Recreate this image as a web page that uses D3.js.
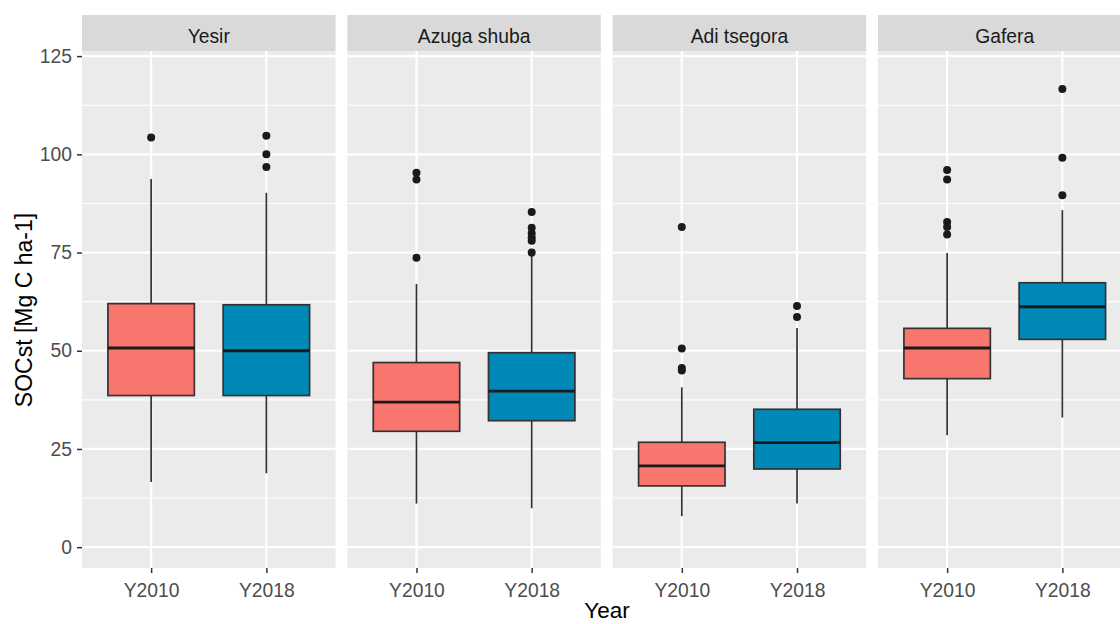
<!DOCTYPE html>
<html>
<head>
<meta charset="utf-8">
<script src="https://cdn.jsdelivr.net/npm/d3@7/dist/d3.min.js"></script>
<style>
  html, body { margin: 0; padding: 0; background: #ffffff; }
  svg { display: block; font-family: "Liberation Sans", Arial, sans-serif; }
</style>
</head>
<body>
<svg id="chart" width="1120" height="624"></svg>
<script>
// Soil organic carbon stock per site and survey year (box summaries)
const sites = ["Yesir", "Azuga shuba", "Adi tsegora", "Gafera"];
const years = ["Y2010", "Y2018"];
const yTicks = [0, 25, 50, 75, 100, 125];

// Indexed [site][year]
const whiskerLow  = [[16.6, 18.8], [11.1, 9.9],  [7.9, 11.1],  [28.5, 33.0]];
const q1Values    = [[38.6, 38.6], [29.5, 32.2], [15.6, 19.9], [42.9, 52.9]];
const medians     = [[50.7, 50.0], [36.9, 39.7], [20.7, 26.6], [50.7, 61.2]];
const q3Values    = [[62.0, 61.7], [47.0, 49.5], [26.7, 35.1], [55.7, 67.3]];
const whiskerHigh = [[93.7, 90.2], [67.0, 74.4], [40.7, 55.8], [74.9, 85.8]];
const outliers    = [
  [[104.3], [104.7, 100.0, 96.8]],
  [[95.3, 93.6, 73.7], [85.3, 81.3, 79.9, 78.8, 78.0, 75.0]],
  [[81.5, 50.6, 45.6, 45.0], [61.4, 58.6]],
  [[96.0, 93.6, 82.8, 81.5, 79.6], [116.6, 99.1, 89.6]]
];
const yearColors = ["#F8766D", "#0088B7"];

const svg = d3.select("#chart");

const panelLeft0 = 82, panelStep = 265.33, panelWidth = 253.5;
const stripTop = 15, stripBottom = 51, panelBottom = 568;

const y = d3.scaleLinear().domain([-5.3, 126.3]).range([panelBottom, stripBottom]);
const minorTicks = d3.range(-12.5, 140, 12.5).filter(v => v > -5.3 && v < 126.3 && v % 25 !== 0);

sites.forEach((site, si) => {
  const left = panelLeft0 + si * panelStep;
  // discrete positions at 1 and 2 of an expanded [0.4, 2.6] range
  const xc = d3.scalePoint().domain(years).range([left + panelWidth * 0.6 / 2.2, left + panelWidth * 1.6 / 2.2]);
  const unit = panelWidth / 2.2;
  const boxW = unit * 0.75;

  const g = svg.append("g");

  // panel background
  g.append("rect").attr("x", left).attr("y", stripBottom)
    .attr("width", panelWidth).attr("height", panelBottom - stripBottom).attr("fill", "#EBEBEB");

  // minor grid
  g.selectAll(".minor").data(minorTicks).enter().append("line")
    .attr("x1", left).attr("x2", left + panelWidth)
    .attr("y1", d => y(d)).attr("y2", d => y(d))
    .attr("stroke", "#ffffff").attr("stroke-width", 1.1);

  // major grid
  g.selectAll(".major").data(yTicks).enter().append("line")
    .attr("x1", left).attr("x2", left + panelWidth)
    .attr("y1", d => y(d)).attr("y2", d => y(d))
    .attr("stroke", "#ffffff").attr("stroke-width", 2.2);

  g.selectAll(".vmajor").data(years).enter().append("line")
    .attr("x1", d => xc(d)).attr("x2", d => xc(d))
    .attr("y1", stripBottom).attr("y2", panelBottom)
    .attr("stroke", "#ffffff").attr("stroke-width", 2.2);

  // strip
  g.append("rect").attr("x", left).attr("y", stripTop)
    .attr("width", panelWidth).attr("height", stripBottom - stripTop).attr("fill", "#D9D9D9");
  g.append("text").attr("x", left + panelWidth / 2).attr("y", 42.5)
    .attr("text-anchor", "middle").attr("font-size", 19.3).attr("fill", "#1A1A1A")
    .text(site);

  // boxes
  years.forEach((yr, yi) => {
    const cx = xc(yr);
    const bg = g.append("g");
    bg.append("line").attr("x1", cx).attr("x2", cx)
      .attr("y1", y(q3Values[si][yi])).attr("y2", y(whiskerHigh[si][yi]))
      .attr("stroke", "#333333").attr("stroke-width", 1.7);
    bg.append("line").attr("x1", cx).attr("x2", cx)
      .attr("y1", y(q1Values[si][yi])).attr("y2", y(whiskerLow[si][yi]))
      .attr("stroke", "#333333").attr("stroke-width", 1.7);
    bg.append("rect").attr("x", cx - boxW / 2).attr("width", boxW)
      .attr("y", y(q3Values[si][yi])).attr("height", y(q1Values[si][yi]) - y(q3Values[si][yi]))
      .attr("fill", yearColors[yi]).attr("stroke", "#333333").attr("stroke-width", 1.7);
    bg.append("line").attr("x1", cx - boxW / 2).attr("x2", cx + boxW / 2)
      .attr("y1", y(medians[si][yi])).attr("y2", y(medians[si][yi]))
      .attr("stroke", "#1A1A1A").attr("stroke-width", 2.8);
    bg.selectAll("circle").data(outliers[si][yi]).enter().append("circle")
      .attr("cx", cx).attr("cy", d => y(d)).attr("r", 4)
      .attr("fill", "#1A1A1A");
  });

  // x axis
  const xAxis = d3.axisBottom(xc).tickSize(5).tickPadding(10);
  const ax = g.append("g").attr("transform", `translate(0,${panelBottom})`).call(xAxis);
  ax.select(".domain").remove();
  ax.selectAll(".tick line").attr("stroke", "#333333").attr("stroke-width", 1.5);
  ax.selectAll(".tick text").attr("font-size", 19.3).attr("fill", "#4D4D4D")
    .attr("font-family", "Liberation Sans, Arial, sans-serif");

  if (si === 0) {
    const yAxis = d3.axisLeft(y).tickValues(yTicks).tickSize(5).tickPadding(5);
    const ay = g.append("g").attr("transform", `translate(${left},0)`).call(yAxis);
    ay.select(".domain").remove();
    ay.selectAll(".tick line").attr("stroke", "#333333").attr("stroke-width", 1.5);
    ay.selectAll(".tick text").attr("font-size", 19.3).attr("fill", "#4D4D4D")
      .attr("font-family", "Liberation Sans, Arial, sans-serif");
  }
});

// axis titles
svg.append("text").attr("x", 607).attr("y", 618)
  .attr("text-anchor", "middle").attr("font-size", 22.5).attr("fill", "#000000")
  .text("Year");
svg.append("text").attr("transform", "translate(32,310) rotate(-90)")
  .attr("text-anchor", "middle").attr("font-size", 23).attr("fill", "#000000")
  .text("SOCst [Mg C ha-1]");
</script>
</body>
</html>
